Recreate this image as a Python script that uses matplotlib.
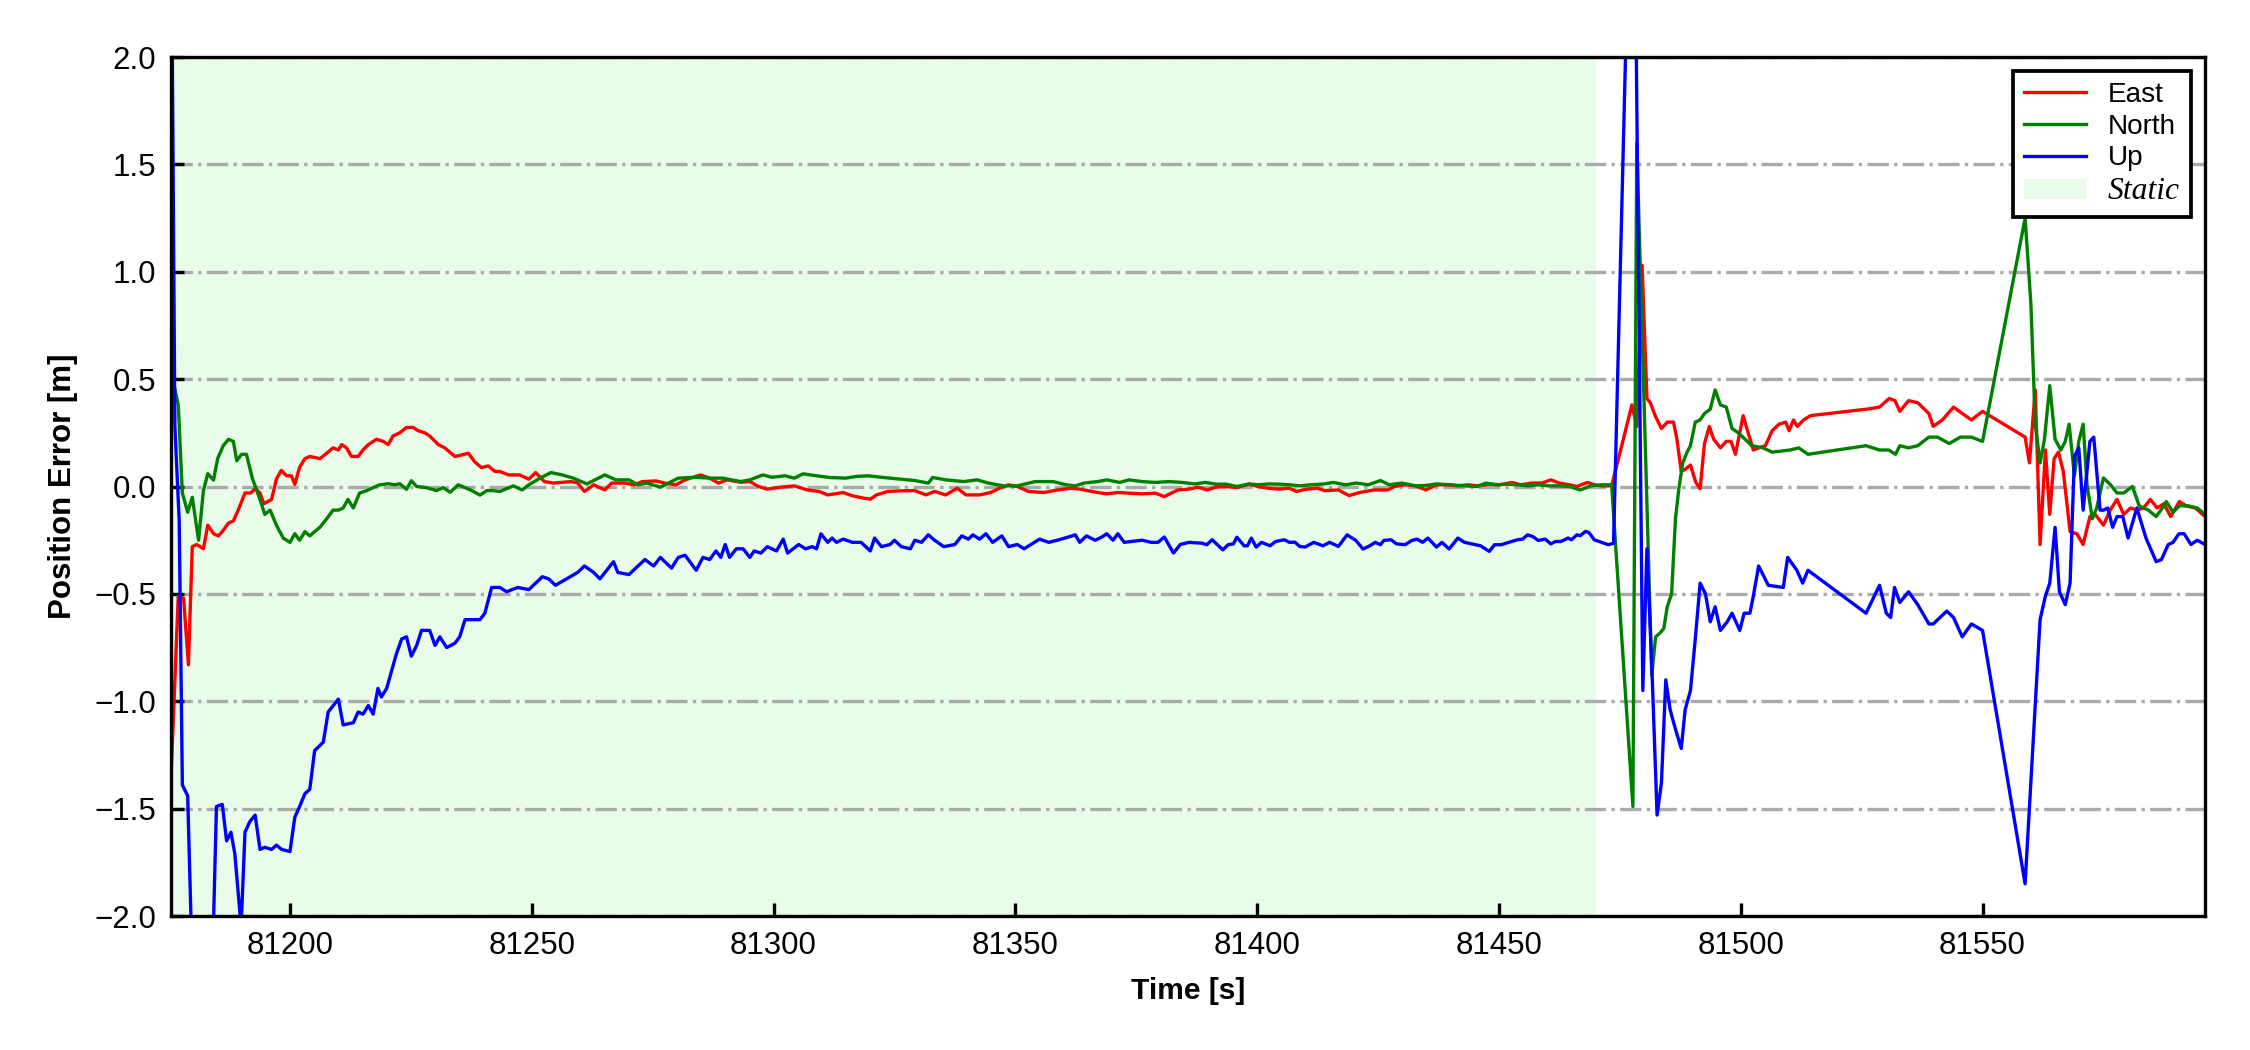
import matplotlib
matplotlib.use("Agg")
import matplotlib.pyplot as plt
from matplotlib.lines import Line2D
from matplotlib.patches import Patch
import numpy as np

plt.rcParams["font.family"] = ["Liberation Sans", "DejaVu Sans"]

# (time [s], error [m])
east_pts = [
    (81175.5, -1.30), (81176.9, -0.51), (81178.0, -0.52), (81179.0, -0.83), (81179.8, -0.28),
    (81180.7, -0.27), (81182.1, -0.29), (81183.0, -0.18), (81184.2, -0.22), (81185.2, -0.23),
    (81186.0, -0.21), (81187.3, -0.17), (81188.3, -0.16), (81189.3, -0.11), (81190.7, -0.03),
    (81191.9, -0.03), (81192.8, -0.01), (81193.8, -0.03), (81194.6, -0.08), (81196.2, -0.06),
    (81197.2, 0.035), (81198.2, 0.075), (81199.3, 0.05), (81200.3, 0.05), (81201.0, 0.01),
    (81202.0, 0.09), (81203.1, 0.13), (81204.1, 0.14), (81206.2, 0.13), (81207.6, 0.155),
    (81208.9, 0.18), (81210.0, 0.17), (81210.7, 0.195), (81211.7, 0.18), (81212.7, 0.14),
    (81214.1, 0.14), (81215.1, 0.17), (81216.2, 0.195), (81217.9, 0.22), (81219.3, 0.21),
    (81220.3, 0.195), (81221.3, 0.235), (81222.7, 0.25), (81224.1, 0.275), (81225.5, 0.275),
    (81226.5, 0.26), (81227.9, 0.25), (81228.9, 0.235), (81230.7, 0.195), (81232.0, 0.18),
    (81234.1, 0.14), (81235.5, 0.147), (81236.9, 0.155), (81238.2, 0.115), (81239.6, 0.088),
    (81241.0, 0.096), (81242.4, 0.07), (81243.4, 0.07), (81245.2, 0.054), (81247.5, 0.054),
    (81249.4, 0.034), (81250.8, 0.065), (81252.6, 0.023), (81254.5, 0.016), (81258.2, 0.023),
    (81259.5, 0.016), (81260.9, -0.023), (81262.8, 0.008), (81265.1, -0.016), (81266.5, 0.016),
    (81269.2, 0.016), (81271.1, 0.008), (81272.9, 0.023), (81275.7, 0.026), (81277.5, 0.016),
    (81279.8, 0.008), (81281.7, 0.031), (81284.9, 0.054), (81286.8, 0.039), (81288.6, 0.016),
    (81290.4, 0.031), (81293.2, 0.02), (81295.1, 0.023), (81296.9, 0.0), (81298.7, -0.012),
    (81301.5, -0.003), (81304.3, 0.003), (81307.0, -0.016), (81309.4, -0.023), (81311.2, -0.039),
    (81314.4, -0.028), (81316.3, -0.043), (81318.6, -0.054), (81320.0, -0.059), (81321.3, -0.039),
    (81323.6, -0.023), (81326.4, -0.02), (81329.2, -0.019), (81331.5, -0.039), (81333.3, -0.023),
    (81335.6, -0.039), (81338.0, -0.008), (81339.8, -0.039), (81342.6, -0.039), (81344.9, -0.028),
    (81346.7, -0.008), (81348.6, 0.008), (81350.4, 0.0), (81352.7, -0.023), (81355.9, -0.028),
    (81358.7, -0.016), (81361.5, -0.008), (81363.3, -0.012), (81367.0, -0.028), (81368.9, -0.034),
    (81371.2, -0.028), (81373.5, -0.031), (81376.2, -0.034), (81379.0, -0.031), (81380.8, -0.047),
    (81383.6, -0.016), (81385.9, -0.012), (81387.8, -0.003), (81389.6, -0.016), (81391.5, -0.003),
    (81393.6, 0.0), (81395.8, -0.005), (81398.3, 0.011), (81400.2, 0.0), (81402.3, -0.008),
    (81404.5, -0.012), (81406.7, -0.008), (81408.1, -0.023), (81410.3, -0.012), (81412.5, -0.008),
    (81413.9, -0.019), (81416.8, -0.016), (81419.0, -0.042), (81421.2, -0.028), (81424.1, -0.016),
    (81427.0, -0.016), (81428.4, 0.0), (81430.6, 0.008), (81432.8, 0.003), (81434.9, -0.016),
    (81437.1, 0.008), (81439.3, 0.008), (81441.5, 0.003), (81443.6, 0.008), (81445.8, 0.003),
    (81448.0, 0.011), (81450.2, 0.008), (81452.7, 0.019), (81454.5, 0.008), (81456.7, 0.016),
    (81458.9, 0.016), (81460.7, 0.031), (81462.5, 0.016), (81464.6, 0.008), (81466.1, 0.0),
    (81468.3, 0.019), (81469.7, 0.008), (81471.2, 0.003), (81473.3, 0.003), (81477.5, 0.38),
    (81478.5, 0.28), (81479.6, 1.03), (81480.6, 0.41), (81481.3, 0.39), (81482.3, 0.33),
    (81483.6, 0.27), (81484.8, 0.30), (81486.1, 0.30), (81486.8, 0.22), (81487.7, 0.07),
    (81488.5, 0.08), (81489.6, 0.10), (81490.7, 0.02), (81491.6, -0.01), (81492.5, 0.20),
    (81493.5, 0.28), (81494.4, 0.22), (81495.8, 0.18), (81497.0, 0.21), (81498.0, 0.21),
    (81498.9, 0.15), (81500.5, 0.33), (81501.4, 0.26), (81502.6, 0.17), (81503.7, 0.18),
    (81505.1, 0.19), (81506.5, 0.26), (81507.9, 0.29), (81509.3, 0.30), (81510.0, 0.26),
    (81510.9, 0.31), (81511.7, 0.28), (81513.0, 0.31), (81514.4, 0.33), (81525.9, 0.36),
    (81527.5, 0.365), (81528.7, 0.37), (81530.7, 0.41), (81531.9, 0.40), (81532.9, 0.35),
    (81534.7, 0.40), (81536.6, 0.39), (81538.9, 0.34), (81539.8, 0.28), (81541.7, 0.31),
    (81544.0, 0.37), (81545.8, 0.34), (81547.7, 0.31), (81550.0, 0.35), (81558.8, 0.23),
    (81559.7, 0.11), (81560.9, 0.45), (81561.9, -0.27), (81563.0, 0.17), (81563.9, -0.13),
    (81564.8, 0.13), (81565.7, 0.16), (81566.7, 0.07), (81568.1, -0.21), (81569.5, -0.22),
    (81570.8, -0.27), (81572.2, -0.14), (81573.3, -0.13), (81575.0, -0.18), (81576.4, -0.11),
    (81577.8, -0.06), (81579.2, -0.13), (81580.6, -0.10), (81582.0, -0.11), (81583.3, -0.10),
    (81584.7, -0.06), (81586.1, -0.10), (81587.5, -0.08), (81588.9, -0.14), (81590.7, -0.07),
    (81592.1, -0.09), (81594.0, -0.10), (81596.0, -0.14),
]

north_pts = [
    (81175.5, 0.53), (81176.9, 0.38), (81177.75, -0.03), (81178.85, -0.12), (81179.8, -0.05),
    (81181.1, -0.25), (81182.1, -0.02), (81183.0, 0.06), (81184.2, 0.03), (81185.05, 0.13),
    (81186.2, 0.19), (81187.3, 0.22), (81188.3, 0.21), (81189.0, 0.12), (81190.0, 0.15),
    (81191.0, 0.15), (81192.2, 0.04), (81193.8, -0.06), (81194.8, -0.13), (81195.9, -0.11),
    (81197.2, -0.18), (81198.6, -0.24), (81200.0, -0.26), (81201.0, -0.22), (81202.0, -0.25),
    (81203.1, -0.21), (81204.1, -0.23), (81205.1, -0.21), (81206.2, -0.19), (81207.6, -0.15),
    (81208.9, -0.11), (81210.0, -0.11), (81211.0, -0.10), (81212.0, -0.06), (81213.1, -0.10),
    (81214.4, -0.03), (81215.8, -0.02), (81217.2, -0.005), (81218.6, 0.008), (81220.3, 0.013),
    (81221.7, 0.008), (81222.7, 0.013), (81224.1, -0.013), (81225.1, 0.027), (81226.2, 0.0),
    (81228.2, -0.005), (81230.3, -0.019), (81231.7, -0.005), (81233.1, -0.027), (81234.8, 0.008),
    (81236.2, -0.005), (81237.6, -0.019), (81239.3, -0.04), (81240.7, -0.019), (81242.0, -0.019),
    (81243.4, -0.023), (81246.2, 0.003), (81248.0, -0.016), (81249.4, 0.008), (81251.7, 0.039),
    (81254.0, 0.065), (81256.3, 0.054), (81258.6, 0.039), (81261.4, 0.012), (81265.1, 0.054),
    (81267.4, 0.031), (81270.1, 0.031), (81272.0, 0.008), (81273.8, 0.016), (81276.6, -0.003),
    (81278.9, 0.023), (81280.3, 0.039), (81284.0, 0.043), (81286.8, 0.039), (81289.5, 0.039),
    (81293.2, 0.023), (81295.1, 0.031), (81297.8, 0.054), (81299.7, 0.043), (81302.4, 0.05),
    (81304.3, 0.039), (81306.1, 0.059), (81308.9, 0.05), (81311.6, 0.042), (81314.9, 0.039),
    (81317.2, 0.047), (81319.5, 0.05), (81322.7, 0.042), (81326.4, 0.034), (81329.2, 0.028),
    (81332.0, 0.016), (81332.9, 0.042), (81335.6, 0.031), (81339.3, 0.023), (81342.1, 0.031),
    (81344.4, 0.016), (81347.6, 0.003), (81350.4, 0.003), (81354.1, 0.023), (81357.8, 0.023),
    (81360.5, 0.008), (81362.4, 0.003), (81364.2, 0.016), (81367.0, 0.023), (81368.9, 0.031),
    (81371.6, 0.019), (81373.5, 0.031), (81376.2, 0.023), (81379.0, 0.019), (81381.8, 0.023),
    (81384.5, 0.019), (81387.1, 0.012), (81389.3, 0.019), (81391.5, 0.011), (81393.6, 0.011),
    (81395.8, 0.0), (81398.3, 0.012), (81400.2, 0.008), (81402.3, 0.012), (81404.5, 0.011),
    (81406.7, 0.008), (81408.9, 0.003), (81411.0, 0.008), (81413.9, 0.012), (81415.7, 0.019),
    (81418.3, 0.008), (81420.4, 0.016), (81423.0, 0.008), (81425.5, 0.028), (81427.3, 0.008),
    (81429.9, 0.016), (81432.8, 0.003), (81434.9, 0.005), (81437.1, 0.012), (81440.0, 0.008),
    (81442.9, 0.003), (81445.4, 0.0), (81447.3, 0.016), (81449.4, 0.008), (81451.6, 0.011),
    (81453.8, 0.008), (81456.0, 0.003), (81458.1, 0.008), (81460.3, 0.003), (81462.5, 0.003),
    (81464.6, 0.0), (81466.8, -0.016), (81469.0, 0.003), (81471.2, 0.008), (81473.3, 0.008),
    (81477.7, -1.49), (81478.5, 1.60), (81481.6, -0.88), (81482.4, -0.70), (81483.4, -0.68),
    (81484.1, -0.66), (81484.8, -0.56), (81485.7, -0.50), (81486.5, -0.15), (81487.2, -0.01),
    (81488.0, 0.11), (81488.9, 0.16), (81489.6, 0.19), (81490.6, 0.30), (81491.6, 0.31),
    (81492.5, 0.34), (81493.7, 0.36), (81494.7, 0.45), (81495.8, 0.38), (81497.0, 0.37),
    (81498.2, 0.27), (81499.5, 0.25), (81500.9, 0.22), (81502.3, 0.19), (81504.6, 0.18),
    (81506.5, 0.16), (81510.2, 0.17), (81512.0, 0.18), (81513.9, 0.15), (81525.9, 0.19),
    (81528.7, 0.17), (81530.6, 0.17), (81532.0, 0.15), (81532.9, 0.19), (81534.7, 0.18),
    (81536.6, 0.19), (81538.9, 0.23), (81540.7, 0.23), (81543.1, 0.20), (81545.4, 0.23),
    (81547.7, 0.23), (81550.0, 0.21), (81558.8, 1.25), (81560.0, 0.85), (81560.9, 0.29),
    (81561.9, 0.11), (81562.8, 0.22), (81563.9, 0.47), (81565.0, 0.22), (81566.2, 0.17),
    (81567.1, 0.21), (81567.9, 0.29), (81569.0, 0.05), (81569.9, 0.21), (81570.8, 0.29),
    (81571.6, 0.01), (81572.7, -0.15), (81573.6, -0.10), (81575.0, 0.04), (81576.4, 0.01),
    (81577.8, -0.03), (81579.2, -0.03), (81581.0, 0.0), (81582.4, -0.09), (81584.3, -0.11),
    (81585.9, -0.14), (81587.2, -0.10), (81588.0, -0.07), (81589.4, -0.12), (81590.7, -0.09),
    (81592.6, -0.09), (81594.4, -0.10), (81596.0, -0.13),
]

up_pts = [
    (81175.5, 2.60), (81176.2, 0.28), (81177.1, -0.16), (81177.75, -1.39), (81178.85, -1.44),
    (81180.0, -2.40), (81182.0, -2.70), (81184.0, -2.20), (81184.8, -1.49), (81186.0, -1.48),
    (81186.9, -1.65), (81187.8, -1.61), (81188.6, -1.71), (81189.9, -2.05), (81190.7, -1.61),
    (81191.7, -1.56), (81192.8, -1.53), (81193.8, -1.69), (81194.8, -1.68), (81196.2, -1.69),
    (81197.2, -1.67), (81198.3, -1.69), (81200.0, -1.70), (81201.0, -1.54), (81202.0, -1.49),
    (81203.1, -1.43), (81204.1, -1.41), (81205.1, -1.23), (81206.9, -1.19), (81207.9, -1.05),
    (81210.0, -0.99), (81211.0, -1.11), (81213.1, -1.10), (81214.1, -1.05), (81215.1, -1.06),
    (81216.2, -1.02), (81217.2, -1.06), (81218.2, -0.94), (81218.9, -0.98), (81220.0, -0.94),
    (81221.0, -0.86), (81222.0, -0.78), (81223.1, -0.71), (81224.1, -0.70), (81225.1, -0.79),
    (81226.2, -0.74), (81227.2, -0.67), (81228.9, -0.67), (81230.0, -0.74), (81231.0, -0.70),
    (81232.4, -0.75), (81234.1, -0.73), (81235.1, -0.70), (81236.2, -0.62), (81237.6, -0.62),
    (81239.3, -0.62), (81240.3, -0.59), (81241.7, -0.47), (81243.4, -0.47), (81244.8, -0.49),
    (81247.1, -0.47), (81249.4, -0.48), (81252.2, -0.42), (81253.5, -0.43), (81254.9, -0.46),
    (81257.2, -0.43), (81259.5, -0.40), (81260.9, -0.37), (81262.8, -0.40), (81264.1, -0.43),
    (81265.5, -0.39), (81266.9, -0.35), (81267.8, -0.40), (81270.1, -0.41), (81271.5, -0.38),
    (81273.4, -0.34), (81275.2, -0.37), (81276.6, -0.33), (81278.9, -0.38), (81280.3, -0.33),
    (81281.7, -0.32), (81284.0, -0.39), (81285.4, -0.33), (81286.8, -0.34), (81288.1, -0.30),
    (81289.1, -0.33), (81290.0, -0.27), (81290.9, -0.33), (81292.3, -0.29), (81293.7, -0.29),
    (81295.1, -0.33), (81296.0, -0.30), (81297.4, -0.31), (81298.7, -0.28), (81300.6, -0.30),
    (81302.0, -0.245), (81302.9, -0.31), (81305.2, -0.27), (81306.6, -0.29), (81308.0, -0.28),
    (81308.9, -0.29), (81309.8, -0.22), (81311.2, -0.26), (81312.1, -0.24), (81313.0, -0.26),
    (81314.4, -0.245), (81316.3, -0.26), (81318.1, -0.26), (81320.0, -0.30), (81320.9, -0.24),
    (81322.3, -0.28), (81324.1, -0.27), (81325.0, -0.25), (81326.4, -0.28), (81328.3, -0.29),
    (81329.2, -0.25), (81330.6, -0.26), (81332.0, -0.225), (81333.3, -0.25), (81335.2, -0.28),
    (81337.5, -0.27), (81338.9, -0.23), (81340.3, -0.245), (81341.2, -0.225), (81342.6, -0.245),
    (81343.9, -0.22), (81345.3, -0.26), (81347.2, -0.23), (81348.6, -0.28), (81350.4, -0.27),
    (81351.8, -0.29), (81355.0, -0.245), (81356.9, -0.26), (81358.7, -0.25), (81361.0, -0.235),
    (81362.4, -0.225), (81363.3, -0.26), (81364.7, -0.23), (81366.5, -0.25), (81367.9, -0.235),
    (81368.9, -0.22), (81370.2, -0.25), (81371.2, -0.22), (81372.5, -0.26), (81376.2, -0.25),
    (81378.1, -0.26), (81379.5, -0.26), (81380.8, -0.235), (81382.7, -0.31), (81384.1, -0.27),
    (81385.9, -0.26), (81388.6, -0.264), (81389.6, -0.271), (81390.7, -0.248), (81392.9, -0.295),
    (81394.0, -0.271), (81395.1, -0.267), (81395.8, -0.236), (81397.3, -0.276), (81398.0, -0.276),
    (81398.8, -0.24), (81399.8, -0.282), (81400.9, -0.26), (81402.7, -0.276), (81403.8, -0.256),
    (81405.6, -0.248), (81406.7, -0.26), (81407.8, -0.259), (81408.8, -0.279), (81409.9, -0.282),
    (81411.7, -0.26), (81413.6, -0.276), (81415.0, -0.26), (81416.8, -0.279), (81418.6, -0.225),
    (81420.4, -0.251), (81421.9, -0.291), (81423.3, -0.276), (81424.4, -0.26), (81425.5, -0.271),
    (81426.2, -0.251), (81427.7, -0.248), (81428.8, -0.267), (81430.6, -0.271), (81432.0, -0.251),
    (81433.1, -0.245), (81434.2, -0.26), (81435.3, -0.24), (81437.1, -0.282), (81438.2, -0.26),
    (81439.7, -0.291), (81441.5, -0.24), (81442.9, -0.26), (81445.1, -0.271), (81446.2, -0.276),
    (81448.0, -0.302), (81449.1, -0.271), (81450.5, -0.271), (81452.0, -0.26), (81453.8, -0.248),
    (81454.9, -0.245), (81455.9, -0.225), (81457.0, -0.233), (81458.1, -0.251), (81459.6, -0.245),
    (81460.7, -0.267), (81461.7, -0.256), (81462.8, -0.256), (81464.3, -0.24), (81465.0, -0.248),
    (81466.1, -0.225), (81466.8, -0.229), (81467.9, -0.209), (81468.6, -0.214), (81469.7, -0.248),
    (81471.2, -0.26), (81472.6, -0.271), (81473.7, -0.264), (81477.75, 3.45), (81479.75, -0.95),
    (81480.6, -0.29), (81481.65, -0.86), (81482.7, -1.53), (81483.6, -1.38), (81484.5, -0.90),
    (81485.4, -1.04), (81486.5, -1.13), (81487.7, -1.22), (81488.5, -1.04), (81489.6, -0.95),
    (81490.6, -0.71), (81491.6, -0.45), (81492.7, -0.50), (81493.7, -0.63), (81494.7, -0.56),
    (81495.8, -0.67), (81497.2, -0.63), (81498.2, -0.59), (81499.8, -0.67), (81500.7, -0.59),
    (81501.9, -0.59), (81502.6, -0.51), (81503.7, -0.37), (81505.7, -0.46), (81508.8, -0.47),
    (81509.7, -0.33), (81511.6, -0.39), (81512.8, -0.45), (81513.9, -0.39), (81525.9, -0.59),
    (81528.7, -0.46), (81530.1, -0.59), (81531.0, -0.61), (81531.8, -0.47), (81532.9, -0.54),
    (81534.7, -0.49), (81536.6, -0.55), (81538.9, -0.64), (81539.8, -0.64), (81542.6, -0.58),
    (81544.0, -0.61), (81545.8, -0.70), (81547.7, -0.64), (81550.0, -0.67), (81558.8, -1.85),
    (81561.9, -0.62), (81563.0, -0.51), (81563.9, -0.45), (81565.0, -0.19), (81565.9, -0.49),
    (81567.1, -0.55), (81568.1, -0.45), (81569.0, 0.14), (81569.9, 0.18), (81570.8, -0.11),
    (81572.2, 0.21), (81573.0, 0.23), (81574.3, -0.11), (81575.0, -0.11), (81575.9, -0.10),
    (81576.9, -0.19), (81577.8, -0.14), (81579.0, -0.14), (81580.1, -0.24), (81581.9, -0.10),
    (81583.8, -0.24), (81585.9, -0.35), (81587.0, -0.34), (81588.4, -0.27), (81589.4, -0.26),
    (81590.6, -0.22), (81591.7, -0.22), (81593.1, -0.27), (81594.4, -0.25), (81596.0, -0.27),
]

static_end = 81470.0
x_ticks = [81200, 81250, 81300, 81350, 81400, 81450, 81500, 81550]
series = [("East", east_pts, "red"), ("North", north_pts, "green"), ("Up", up_pts, "blue")]


def main() -> None:
    fig, ax = plt.subplots(figsize=(7.5, 3.5), dpi=300)
    fig.subplots_adjust(left=0.076, right=0.980, top=0.9457, bottom=0.1276)

    ax.axvspan(81170, static_end, color="#e9fce9", lw=0, zorder=0)

    handles = []
    for name, pts, col in series:
        t, v = zip(*pts)
        ax.plot(t, v, color=col, lw=0.8)
        handles.append(Line2D([], [], color=col, lw=0.8, label=name))
    handles.append(Patch(facecolor="#e9fce9", edgecolor="none", label="Static"))

    ax.set_xlim(81175.4, 81596.0)
    ax.set_ylim(-2.0, 2.0)
    ax.set_xticks(x_ticks)
    ax.set_yticks(np.arange(-2.0, 2.01, 0.5))
    ax.set_axisbelow(True)
    ax.grid(axis="y", ls="-.", lw=0.8, color="#aaaaaa")
    ax.tick_params(direction="in", length=3.2, width=0.8, labelsize=7.5)
    for sp in ax.spines.values():
        sp.set_linewidth(0.8)

    ax.set_xlabel("Time [s]", fontsize=7.2, fontweight="bold")
    ax.set_ylabel("Position Error [m]", fontsize=7.5, fontweight="bold")

    leg = ax.legend(handles=handles, loc="upper right", fontsize=6.7, fancybox=False,
                    edgecolor="black", framealpha=1, handlelength=2.2, labelspacing=0.2,
                    handletextpad=0.8, borderpad=0.4)
    leg.get_frame().set_linewidth(0.9)
    st = leg.get_texts()[3]
    st.set_fontfamily(["Liberation Serif", "DejaVu Serif"])
    st.set_fontstyle("italic")
    st.set_fontsize(7.6)

    fig.savefig("out.png", dpi=300)
    plt.close(fig)


if __name__ == "__main__":
    main()
